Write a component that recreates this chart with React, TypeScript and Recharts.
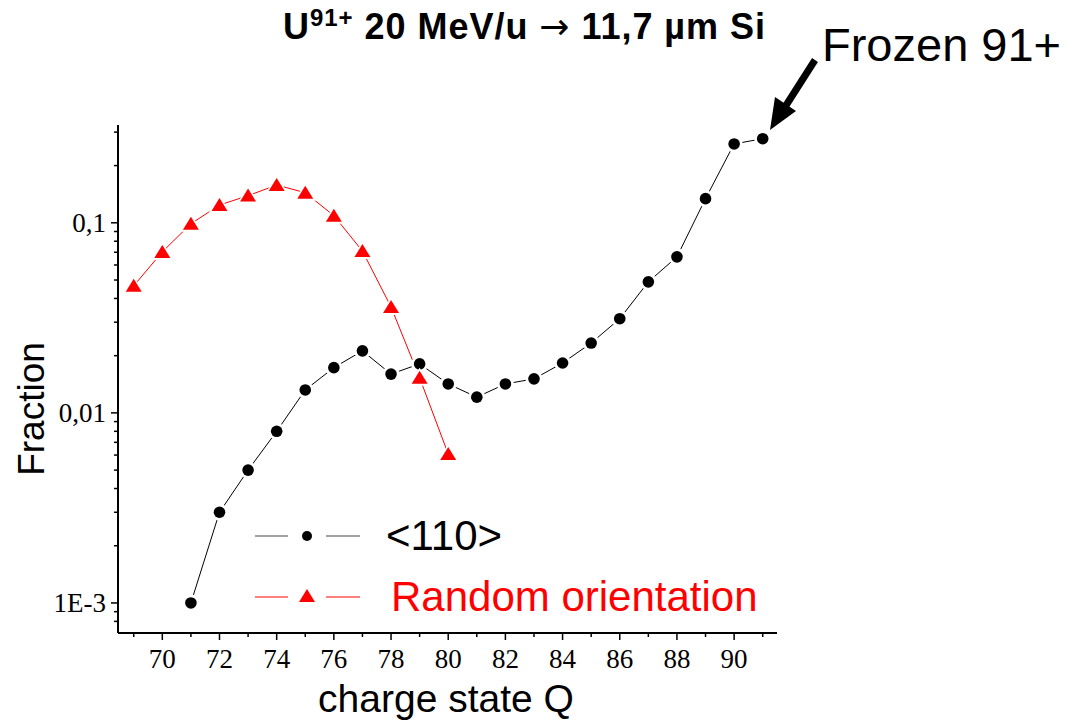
import React from 'react';
import { LineChart, Line, XAxis, YAxis, Legend } from 'recharts';

const chargeStates110 = [71, 72, 73, 74, 75, 76, 77, 78, 79, 80, 81, 82, 83, 84, 85, 86, 87, 88, 89, 90, 91];
const fraction110 = [0.001, 0.003, 0.005, 0.008, 0.0132, 0.0173, 0.0212, 0.016, 0.0181, 0.0142, 0.0121, 0.0142, 0.0151, 0.0183, 0.0233, 0.0313, 0.0489, 0.0662, 0.134, 0.26, 0.277];

const chargeStatesRandom = [69, 70, 71, 72, 73, 74, 75, 76, 77, 78, 79, 80];
const fractionRandom = [0.0466, 0.0703, 0.0988, 0.124, 0.139, 0.158, 0.144, 0.109, 0.071, 0.0361, 0.0153, 0.00608];

const xTicks = [69, 70, 71, 72, 73, 74, 75, 76, 77, 78, 79, 80, 81, 82, 83, 84, 85, 86, 87, 88, 89, 90, 91];
const xLabelTicks = [70, 72, 74, 76, 78, 80, 82, 84, 86, 88, 90];
const yTicks = [0.0008, 0.0009, 0.001, 0.002, 0.003, 0.004, 0.005, 0.006, 0.007, 0.008, 0.009, 0.01, 0.02, 0.03, 0.04, 0.05, 0.06, 0.07, 0.08, 0.09, 0.1, 0.2, 0.3];
const yLabelTicks: Record<string, string> = { '0.001': '1E-3', '0.01': '0,01', '0.1': '0,1' };

const data110 = chargeStates110.map((q, i) => ({ q, f: fraction110[i] }));
const dataRandom = chargeStatesRandom.map((q, i) => ({ q, f: fractionRandom[i] }));

const serif = '"Liberation Serif", "Times New Roman", serif';
const sans = '"Liberation Sans", Arial, sans-serif';

const XTick = (props: any) => {
  const { x, y, payload } = props;
  const major = xLabelTicks.includes(payload.value);
  return (
    <g>
      <line x1={x} x2={x} y1={y} y2={y + (major ? 7 : 4)} stroke="#000" strokeWidth={1.5} />
      {major && (
        <text x={x} y={y + 35} textAnchor="middle" fontFamily={serif} fontSize={27} fill="#000">
          {payload.value}
        </text>
      )}
    </g>
  );
};

const YTick = (props: any) => {
  const { x, y, payload } = props;
  const label = yLabelTicks[String(payload.value)];
  const major = !!label;
  return (
    <g>
      <line x1={x} x2={x - (major ? 7 : 4)} y1={y} y2={y} stroke="#000" strokeWidth={1.5} />
      {major && (
        <text x={x - 12} y={y + 9} textAnchor="end" fontFamily={serif} fontSize={27} fill="#000">
          {label}
        </text>
      )}
    </g>
  );
};

const CircleDot = (props: any) => {
  const { cx, cy, index } = props;
  if (cx == null || cy == null) return <g key={`c${index}`} />;
  return (
    <g key={`c${index}`}>
      <circle cx={cx} cy={cy} r={8.5} fill="#fff" />
      <circle cx={cx} cy={cy} r={5.8} fill="#000" />
    </g>
  );
};

const TriDot = (props: any) => {
  const { cx, cy, index } = props;
  if (cx == null || cy == null) return <g key={`t${index}`} />;
  return (
    <g key={`t${index}`}>
      <polygon points={`${cx},${cy - 10} ${cx - 11},${cy + 8} ${cx + 11},${cy + 8}`} fill="#fff" />
      <polygon points={`${cx},${cy - 7} ${cx - 8},${cy + 6} ${cx + 8},${cy + 6}`} fill="#ff0000" />
    </g>
  );
};

const legendItems = [
  { name: '<110>', color: '#000', line: '#444', marker: 'circle' },
  { name: 'Random orientation', color: '#ff0000', line: '#ff0000', marker: 'triangle' },
];

const LegendContent = () => (
  <div style={{ width: 540 }}>
    {legendItems.map((it, i) => (
      <div key={it.name} style={{ display: 'flex', alignItems: 'center', height: 61 }}>
        <svg width={130} height={40} style={{ display: 'block' }}>
          <line x1={5} x2={38} y1={20} y2={20} stroke={it.line} strokeWidth={1.2} />
          <line x1={76} x2={110} y1={20} y2={20} stroke={it.line} strokeWidth={1.2} />
          {it.marker === 'circle' ? (
            <circle cx={57} cy={20} r={5} fill={it.color} />
          ) : (
            <polygon points="57,12 49,25 65,25" fill={it.color} />
          )}
        </svg>
        <span style={{ fontFamily: sans, fontSize: 42, color: it.color, marginLeft: i === 0 ? 6 : 11, lineHeight: '42px' }}>
          {it.name}
        </span>
      </div>
    ))}
  </div>
);

export default function App() {
  return (
    <div style={{ position: 'absolute', left: 0, top: 0, width: 1068, height: 720, background: '#fff' }}>
      <LineChart
        width={1068}
        height={720}
        margin={{ top: 125, right: 291, bottom: 47, left: 58 }}
      >
        <XAxis
          type="number"
          dataKey="q"
          domain={[68.45, 91.5]}
          ticks={xTicks}
          interval={0}
          allowDataOverflow
          axisLine={{ stroke: '#000', strokeWidth: 2 }}
          tickLine={false}
          tickSize={0}
          tickMargin={0}
          height={40}
          tick={<XTick />}
        />
        <YAxis
          type="number"
          scale="log"
          dataKey="f"
          domain={[0.000695, 0.327]}
          ticks={yTicks}
          interval={0}
          allowDataOverflow
          axisLine={{ stroke: '#000', strokeWidth: 2 }}
          tickLine={false}
          tickSize={0}
          tickMargin={0}
          width={60}
          tick={<YTick />}
        />
        <Line
          data={data110}
          dataKey="f"
          name="<110>"
          stroke="#000"
          strokeWidth={1}
          dot={<CircleDot />}
          activeDot={false}
          isAnimationActive={false}
        />
        <Line
          data={dataRandom}
          dataKey="f"
          name="Random orientation"
          stroke="#ff0000"
          strokeWidth={1}
          dot={<TriDot />}
          activeDot={false}
          isAnimationActive={false}
        />
        <Legend
          layout="vertical"
          align="center"
          verticalAlign="middle"
          content={<LegendContent />}
          wrapperStyle={{ position: 'absolute', left: 250, top: 505, width: 540 }}
        />
      </LineChart>
      <svg width={1068} height={720} style={{ position: 'absolute', left: 0, top: 0, pointerEvents: 'none' }}>
        <text x={283} y={39} fontFamily={sans} fontWeight="bold" fontSize={36} fill="#000" textLength={482} lengthAdjust="spacing">
          U<tspan fontSize={24} dy={-13}>91+</tspan>
          <tspan dy={13}> 20 MeV/u </tspan>
          <tspan fontFamily='"DejaVu Sans", sans-serif' fontWeight="normal">→</tspan>
          <tspan> 11,7 µm Si</tspan>
        </text>
        <text x={822} y={61} fontFamily={sans} fontSize={47} fill="#000">Frozen 91+</text>
        <line x1={815} y1={60} x2={785} y2={107} stroke="#000" strokeWidth={7} />
        <polygon points="770,130 775,97 796,111" fill="#000" />
        <text x={446} y={712} textAnchor="middle" fontFamily={sans} fontSize={39} fill="#000">charge state Q</text>
        <text x={44} y={409} textAnchor="middle" fontFamily={sans} fontSize={37} fill="#000" transform="rotate(-90 44 409)">Fraction</text>
      </svg>
    </div>
  );
}
